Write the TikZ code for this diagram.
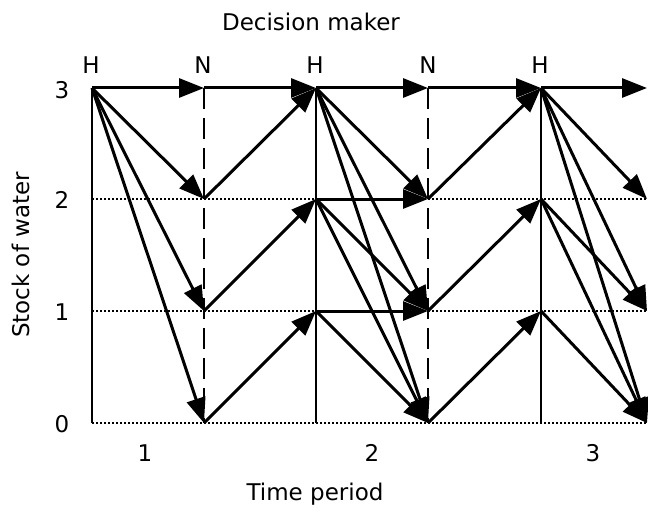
\documentclass[tikz,border=0pt]{standalone}
\usepackage{fontspec}
\setmainfont{DejaVu Sans}
\usetikzlibrary{arrows.meta}
\begin{document}
\begin{tikzpicture}[x=1pt,y=-1pt,
  gridline/.style={line width=1.5pt},
  dashgrid/.style={line width=1.5pt, dash pattern=on 21pt off 9pt},
  dotgrid/.style={line width=1.5pt, dash pattern=on 2pt off 2pt},
  move/.style={line width=3pt, -{Triangle[length=25pt,width=19pt]}},
  lbl/.style={font=\fontsize{23}{27}\selectfont, inner sep=0pt}]
\useasboundingbox (0,0) rectangle (648,508);
\foreach \c/\x in {a/92,b/204,c/316,d/428,e/541,f/647}{
  \foreach \l/\y in {3/88,2/199,1/311,0/423}{
    \coordinate (\c\l) at (\x,\y);
  }
}
% grid
\draw[gridline] (a3) -- (a0);
\draw[gridline] (c3) -- (c0);
\draw[gridline] (e3) -- (e0);
\draw[dashgrid] (b3) -- (b0);
\draw[dashgrid] (d3) -- (d0);
\draw[dotgrid] (a2) -- (f2);
\draw[dotgrid] (a1) -- (f1);
\draw[dotgrid] (a0) -- (f0);
% level 3 horizontal
\draw[move] (a3) -- (b3);
\draw[move] (b3) -- (c3);
\draw[move] (c3) -- (d3);
\draw[move] (d3) -- (e3);
\draw[move] (e3) -- (f3);
% period 1
\draw[move] (a3) -- (b2);
\draw[move] (a3) -- (b1);
\draw[move] (a3) -- (b0);
\draw[move] (b2) -- (c3);
\draw[move] (b1) -- (c2);
\draw[move] (b0) -- (c1);
% period 2
\draw[move] (c3) -- (d2);
\draw[move] (c3) -- (d1);
\draw[move] (c3) -- (d0);
\draw[move] (c2) -- (d2);
\draw[move] (c2) -- (d1);
\draw[move] (c2) -- (d0);
\draw[move] (c1) -- (d1);
\draw[move] (c1) -- (d0);
\draw[move] (d2) -- (e3);
\draw[move] (d1) -- (e2);
\draw[move] (d0) -- (e1);
% period 3
\draw[move] (e3) -- (f2);
\draw[move] (e3) -- (f1);
\draw[move] (e3) -- (f0);
\draw[move] (e2) -- (f1);
\draw[move] (e2) -- (f0);
\draw[move] (e1) -- (f0);
% labels
\node[lbl] (title) at (311,22) {Decision maker};
\node[lbl] (hA) at (91,65) {H};
\node[lbl] (nB) at (203,65) {N};
\node[lbl] (hC) at (315,65) {H};
\node[lbl] (nD) at (428,65) {N};
\node[lbl] (hE) at (540,65) {H};
\node[lbl] (y3) at (62,90) {3};
\node[lbl] (y2) at (62,200) {2};
\node[lbl] (y1) at (62,312) {1};
\node[lbl] (y0) at (62,424) {0};
\node[lbl] (t1) at (145,453) {1};
\node[lbl] (t2) at (372,453) {2};
\node[lbl] (t3) at (593,453) {3};
\node[lbl] (xlab) at (315,494) {Time period};
\node[lbl, rotate=90] (ylab) at (21,255) {Stock of water};
\end{tikzpicture}
\end{document}
